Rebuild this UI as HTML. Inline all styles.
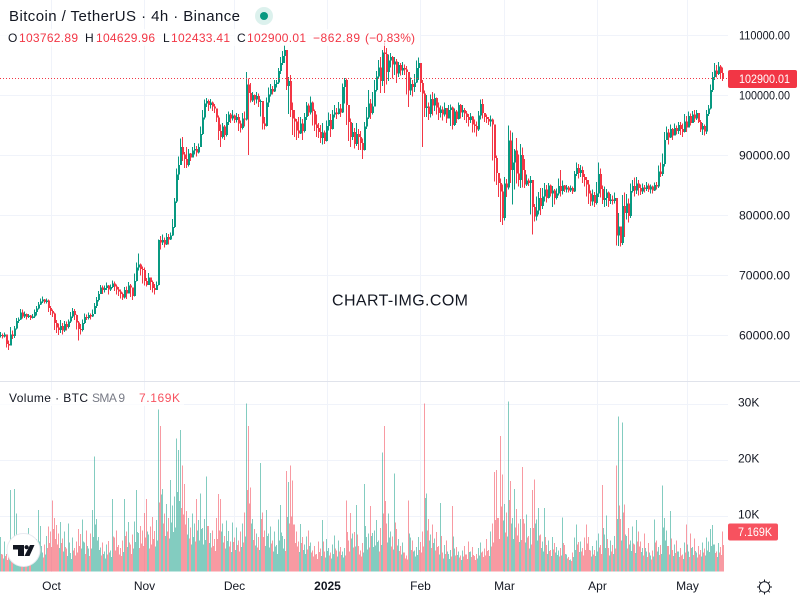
<!DOCTYPE html>
<html lang="en">
<head>
<meta charset="utf-8">
<title>Bitcoin / TetherUS 4h chart</title>
<style>
html,body{margin:0;padding:0;background:#fff;}
#chart{display:block;width:800px;height:600px;font-family:"Liberation Sans",sans-serif;}
text{font-family:"Liberation Sans",sans-serif;}
</style>
</head>
<body>
<svg id="chart" xmlns="http://www.w3.org/2000/svg" width="800" height="600" viewBox="0 0 800 600">
  <rect x="0" y="0" width="800" height="600" fill="#ffffff"/>
  <g id="grid"></g>
  <rect x="0" y="381" width="800" height="1" fill="#e0e3eb"/>
  <text x="400" y="305.500" font-size="16" fill="#131722" text-anchor="middle" textLength="136">CHART-IMG.COM</text>
  <g id="volumes" shape-rendering="crispEdges"></g>
  <g id="candles" shape-rendering="crispEdges"></g>
  <line id="price-line" x1="0" x2="728" stroke="#f23645" stroke-width="1" stroke-dasharray="1 2"/>

  <rect x="0" y="29" width="420" height="17" fill="#ffffff" opacity="0.7"/>
  <rect x="0" y="390" width="184" height="16" fill="#ffffff" opacity="0.7"/>

  <text x="9" y="21" font-size="15" fill="#131722" textLength="231">Bitcoin / TetherUS · 4h · Binance</text>
  <circle cx="264" cy="16" r="9" fill="#089981" opacity="0.14"/>
  <circle cx="264" cy="16" r="4" fill="#089981"/>

  <g font-size="12">
    <text x="8" y="42" fill="#131722">O</text>
    <text x="19" y="42" fill="#f23645" textLength="59">103762.89</text>
    <text x="85" y="42" fill="#131722">H</text>
    <text x="96" y="42" fill="#f23645" textLength="59">104629.96</text>
    <text x="163" y="42" fill="#131722">L</text>
    <text x="171" y="42" fill="#f23645" textLength="59">102433.41</text>
    <text x="237" y="42" fill="#131722">C</text>
    <text x="247" y="42" fill="#f23645" textLength="59">102900.01</text>
    <text x="313" y="42" fill="#f23645" textLength="47">−862.89</text>
    <text x="365" y="42" fill="#f23645" textLength="50">(−0.83%)</text>
  </g>

  <g font-size="12">
    <text x="9" y="402" fill="#131722" textLength="79">Volume · BTC</text>
    <text x="92" y="402" fill="#787b86" textLength="33">SMA 9</text>
    <text x="139" y="402" fill="#f7525f" textLength="41">7.169K</text>
  </g>

  <g id="price-axis" font-size="12" fill="#131722"></g>
  <g id="volume-axis" font-size="12" fill="#131722"></g>
  <g id="time-axis" font-size="12" fill="#131722" text-anchor="middle"></g>

  <rect id="price-tag" x="728" width="69" height="18" rx="2" fill="#f23645"/>
  <text id="price-tag-text" x="739" font-size="12" fill="#ffffff" textLength="51" lengthAdjust="spacingAndGlyphs">102900.01</text>
  <rect id="vol-tag" x="728" width="50" height="17" rx="2" fill="#f7525f"/>
  <text id="vol-tag-text" x="738" font-size="12" fill="#ffffff" textLength="34" lengthAdjust="spacingAndGlyphs">7.169K</text>

  <g>
    <circle cx="23.500" cy="550" r="16.500" fill="#ffffff" stroke="#e8eaf0" stroke-width="1"/>
    <path d="M13 545H24V556H18V549.500H13Z" fill="#131722"/>
    <circle cx="26.600" cy="547.200" r="2.100" fill="#131722"/>
    <path d="M30 545H34.500L29.500 556H24.500Z" fill="#131722"/>
  </g>

  <g stroke="#131722" stroke-width="1" fill="none">
    <circle cx="764.500" cy="587" r="5.200"/>
    <path d="M764.500 579.500v2M764.500 592.500v2M757 587h2M770 587h2M759.200 581.700l1.500 1.500M768.300 590.800l1.500 1.500M759.200 592.300l1.500-1.500M768.300 583.200l1.500-1.500"/>
  </g>
</svg>
<script>
// Values in thousands of USDT, one bar per 16 hours of chart time.
const highs = [
60.6,60.3,60.5,60.2,59.2,61.4,60.8,61.6,62.9,63.0,
64.4,64.3,64.0,63.7,63.6,63.4,63.6,64.3,64.9,65.6,
66.2,66.5,66.1,66.2,66.0,64.9,64.3,63.8,62.6,62.0,
62.6,62.1,62.4,62.3,62.7,63.9,64.6,64.4,63.5,62.4,
61.9,62.7,63.7,63.5,63.8,63.7,64.3,65.4,66.4,67.4,
68.4,68.3,68.3,68.8,68.4,68.5,69.2,69.0,68.5,68.1,
67.7,67.2,68.1,68.2,68.9,68.6,67.9,70.3,72.2,73.7,
72.0,71.5,71.3,69.6,70.4,69.6,69.2,68.6,69.0,76.0,
76.6,76.8,76.3,77.1,76.9,77.2,79.4,82.9,87.8,89.8,
92.8,93.1,90.6,91.4,91.1,90.4,91.4,92.1,91.6,92.0,
94.8,97.6,99.3,99.6,99.3,99.4,99.0,98.6,97.6,96.7,
95.2,95.4,95.1,96.9,97.3,97.1,97.6,96.8,97.1,96.9,
95.8,97.1,97.3,103.9,102.8,102.1,100.6,100.2,100.6,100.3,
99.3,97.6,96.4,99.7,101.3,101.9,101.6,102.6,102.6,104.6,
106.4,107.4,108.4,107.6,103.1,103.4,98.8,97.6,96.1,96.4,
96.4,96.1,97.1,98.9,98.7,99.8,99.0,97.7,96.8,95.4,
95.1,95.4,94.2,95.8,97.2,96.9,97.6,98.4,97.9,98.9,
98.6,102.0,102.9,102.8,97.6,96.2,95.4,94.6,95.4,94.4,
94.1,92.8,95.6,98.1,100.9,99.4,100.6,102.6,104.1,105.9,
106.4,107.6,108.8,107.9,106.8,107.1,106.6,106.4,106.1,105.6,
105.4,105.6,105.2,104.9,103.1,103.0,102.6,103.6,105.8,106.3,
105.2,102.6,100.8,100.1,98.8,100.2,100.6,100.3,99.7,98.8,
98.3,98.2,98.8,97.9,98.4,98.5,98.2,97.8,97.6,98.8,
98.6,98.4,97.9,97.4,96.9,97.1,96.6,96.0,95.7,97.4,
99.3,99.4,97.1,96.8,96.4,96.7,96.2,91.0,90.0,87.1,
86.2,85.2,86.4,86.1,95.0,94.2,93.8,91.1,92.9,90.2,
91.9,91.3,89.4,86.8,86.2,86.6,84.8,81.9,83.2,83.9,
84.6,84.6,85.4,85.1,85.4,85.2,84.9,84.4,84.5,86.2,
87.6,85.8,85.1,85.1,84.9,85.0,84.8,87.4,88.8,88.6,
88.4,88.2,86.9,86.4,85.9,84.2,84.3,83.9,85.6,88.8,
87.8,85.0,84.8,84.4,84.0,83.6,83.3,83.8,82.0,80.4,
77.8,83.4,83.8,83.6,82.8,85.3,85.9,86.3,86.4,85.9,
85.2,85.3,85.1,85.6,85.3,85.2,85.0,85.5,85.6,88.3,
88.8,90.3,93.9,94.8,94.4,95.2,94.6,95.3,95.0,95.6,
95.6,95.3,96.9,96.6,97.3,97.0,97.4,97.6,97.6,96.9,
95.9,95.4,95.2,97.6,98.4,101.8,103.9,105.4,105.1,105.6,
105.1,104.63];
const lows = [
59.7,59.5,59.7,58.0,57.6,58.5,59.4,59.6,61.0,62.1,
62.6,62.8,62.9,62.7,62.9,62.6,62.8,62.9,63.3,64.3,
65.1,65.4,65.3,65.3,63.9,63.4,63.1,60.9,60.4,60.1,
60.4,60.2,60.6,60.8,61.2,62.1,62.9,62.6,61.0,59.2,
60.2,60.7,61.9,62.6,62.7,62.7,63.1,63.6,64.6,65.7,
67.0,66.9,67.2,67.6,66.8,67.4,67.9,67.4,66.8,66.6,
66.2,65.9,66.2,66.1,67.0,66.4,65.9,66.5,69.0,70.8,
70.0,68.7,68.3,68.2,68.8,67.6,67.2,66.8,67.8,68.3,
74.3,75.1,74.7,75.1,75.2,75.9,76.6,77.9,82.1,85.9,
88.7,89.1,87.9,87.9,88.2,89.1,89.8,90.2,89.8,90.3,
91.4,93.4,96.0,98.1,97.4,97.8,97.4,97.1,95.6,92.6,
91.4,92.8,92.6,93.2,95.1,95.4,95.8,95.4,95.5,94.1,
93.8,94.3,94.8,95.8,90.1,98.8,98.9,98.4,98.7,98.1,
96.5,94.3,94.3,94.8,98.1,99.8,100.2,100.6,101.3,101.9,
103.6,105.1,105.4,100.9,96.9,96.4,93.4,93.1,92.6,92.9,
93.6,92.6,93.8,95.9,96.6,96.8,95.0,94.1,93.1,92.9,
92.1,91.8,91.9,92.3,94.2,93.1,94.3,96.3,96.1,96.8,
96.4,97.1,98.7,95.1,92.4,91.4,92.6,91.2,91.6,90.9,
90.9,89.4,90.8,94.4,96.1,96.1,96.8,99.8,100.7,102.8,
100.4,101.6,100.4,101.8,102.4,104.7,102.8,103.4,102.1,103.1,
103.3,103.4,103.4,100.2,98.1,100.1,99.8,100.6,102.1,102.6,
100.6,91.4,96.4,96.4,95.9,96.3,96.7,97.4,96.8,95.9,
96.3,95.8,96.5,95.4,96.2,94.9,94.3,94.9,95.4,96.0,
96.2,96.4,95.9,95.4,94.8,95.4,93.8,93.8,93.2,94.1,
96.0,96.2,95.6,95.4,95.1,94.8,89.2,85.7,85.1,83.1,
78.9,78.4,79.2,83.1,84.3,85.4,81.8,84.3,85.3,84.8,
84.6,84.7,84.6,84.9,84.9,80.2,76.8,79.0,79.2,80.2,
80.1,81.1,82.3,82.2,82.8,83.2,81.4,81.8,82.7,83.3,
83.2,83.5,83.9,83.8,83.8,83.9,83.6,83.9,86.6,86.2,
86.4,85.4,84.8,83.2,81.9,81.6,81.7,81.4,81.8,83.1,
83.0,81.9,81.4,81.6,81.4,81.9,81.8,82.0,75.0,74.9,
74.8,75.1,76.4,79.3,78.8,79.6,83.8,83.2,83.6,83.3,
83.4,83.6,83.8,84.1,83.9,83.7,83.7,84.1,84.3,84.6,
86.4,86.6,88.2,92.6,91.8,92.9,92.6,93.3,93.5,93.6,
93.4,93.1,93.8,93.9,94.8,95.0,95.6,95.6,95.9,95.4,
93.9,93.4,93.3,93.6,96.6,97.7,100.6,102.6,103.0,103.4,
102.9,102.43];
const closes = [
60.1,59.8,60.2,58.6,58.3,60.2,59.9,61.2,62.4,62.7,
63.8,63.2,63.6,63.1,63.3,62.9,63.2,63.9,64.5,65.2,
65.7,66.0,65.6,65.8,64.6,64.1,63.7,62.1,61.3,60.9,
61.6,60.8,61.9,61.4,62.3,63.2,64.1,63.4,62.2,61.1,
60.9,62.1,63.1,62.9,63.4,63.2,63.6,64.9,65.9,66.9,
68.0,67.6,67.9,68.3,67.7,68.1,68.7,68.2,67.7,67.3,
66.9,66.3,67.6,67.0,68.3,68.0,66.6,69.1,71.3,71.8,
71.1,70.9,69.1,68.4,69.7,68.9,67.9,67.6,68.4,75.9,
75.5,75.9,75.2,76.4,76.0,76.7,78.1,82.3,86.8,88.4,
91.4,90.2,89.4,88.4,90.3,89.7,90.8,91.1,90.5,91.4,
93.6,96.3,98.7,99.1,98.4,98.8,98.2,97.8,96.3,94.1,
93.1,94.8,93.4,95.6,96.8,96.2,96.7,95.9,96.4,95.3,
94.6,96.2,96.0,101.8,100.4,99.2,100.1,99.3,99.9,98.9,
99.1,95.3,94.9,98.8,100.2,101.1,100.7,101.9,102.2,104.1,
105.4,106.6,107.6,101.6,102.4,97.6,96.2,95.7,94.2,93.7,
95.3,94.1,96.4,98.3,97.2,98.8,97.4,95.2,94.6,93.9,
92.9,93.8,92.4,94.9,95.9,94.4,96.8,97.2,96.9,97.8,
97.2,101.4,102.6,98.4,95.6,93.1,93.9,91.9,93.6,93.1,
92.1,90.9,94.8,96.3,98.7,97.1,98.2,100.9,103.2,104.7,
102.4,107.2,106.9,103.9,105.8,106.4,105.2,105.7,103.7,105.1,
104.2,104.6,104.3,103.9,100.8,101.9,101.4,102.2,104.6,105.4,
102.1,100.3,97.9,98.2,96.9,99.4,98.3,99.6,98.0,97.1,
97.7,96.8,97.9,96.2,97.6,98.0,95.1,97.3,96.1,98.4,
97.2,97.6,97.0,96.4,95.9,96.5,95.2,94.9,94.3,96.7,
98.6,97.1,96.4,96.1,95.7,96.0,95.2,89.6,87.1,85.4,
84.0,79.6,85.3,84.7,92.5,87.6,88.8,90.8,87.0,85.9,
90.1,87.6,85.2,85.8,85.4,85.9,81.4,79.8,80.8,82.9,
81.6,83.2,84.3,82.9,85.0,83.7,84.2,82.9,83.7,84.9,
84.1,85.0,84.3,84.7,84.2,84.6,84.0,86.9,87.9,87.1,
87.6,86.4,85.9,85.2,83.7,82.3,83.4,82.1,83.7,86.9,
84.4,82.6,82.9,83.8,82.4,82.7,82.4,82.9,76.7,78.2,
75.4,81.6,80.4,82.0,79.9,84.1,84.9,84.2,85.3,84.6,
84.0,84.7,84.4,85.0,84.3,84.8,84.2,85.1,84.8,87.3,
86.9,88.6,92.6,93.8,93.0,94.4,93.3,94.6,94.1,95.1,
94.4,93.9,95.7,94.7,96.6,95.4,96.8,96.2,97.1,95.6,
94.3,94.9,94.0,96.9,97.8,100.9,103.1,104.2,103.6,104.8,
103.76,102.9];
// Traded volume in thousands of BTC: the taller bar in each 2px slot.
const volumes = [
6.2,3.1,5.4,3.2,4.6,14.6,3.9,14.8,10.4,4.3,
5.2,3.1,6.4,4.2,7.8,3.9,5.1,4.6,5.8,11.0,
8.2,3.4,4.9,6.4,8.1,7.2,12.7,9.6,8.3,6.8,
8.9,5.9,7.2,4.1,8.6,3.3,6.1,4.2,5.4,7.6,
6.7,9.3,5.2,7.4,4.1,6.8,11.0,20.6,9.4,6.2,
4.3,5.2,3.6,4.9,5.5,3.8,13.0,6.1,7.4,4.8,
4.2,5.6,13.0,7.2,8.9,4.9,6.6,9.0,14.6,6.9,
8.2,7.4,10.5,13.0,6.6,8.1,9.8,7.3,9.2,29.0,
26.0,14.8,10.4,12.1,9.6,16.4,11.8,13.4,23.8,21.7,
25.3,19.0,15.7,10.8,9.6,7.9,10.4,8.6,13.0,9.2,
14.0,7.8,9.4,17.0,8.2,6.9,7.4,5.8,9.6,13.9,
13.0,8.6,6.4,9.1,7.3,5.4,8.8,6.1,7.9,5.6,
7.2,8.6,10.6,30.0,26.0,15.0,9.4,7.6,6.8,6.2,
19.4,10.6,7.4,11.0,6.8,8.1,5.6,7.2,4.8,9.3,
11.9,6.4,5.8,18.0,16.0,19.0,16.3,8.4,7.2,5.4,
8.5,6.2,4.9,6.3,7.4,5.2,3.8,4.6,3.2,5.4,
4.1,9.2,3.6,5.8,4.2,3.4,4.9,6.5,3.8,5.6,
4.4,3.6,4.2,12.7,5.6,10.5,6.8,7.1,11.9,4.6,
3.8,5.1,15.7,6.2,6.8,11.7,6.9,7.4,9.2,5.6,
7.8,21.3,26.0,8.6,10.4,7.2,6.3,17.5,7.6,5.8,
4.6,5.2,3.4,2.9,12.7,6.1,5.6,3.8,4.4,6.2,
5.3,7.2,30.0,14.0,9.4,6.6,8.4,5.9,7.1,4.6,
12.3,3.4,4.8,5.6,3.2,3.9,11.7,4.1,4.4,3.6,
2.9,3.8,4.6,3.1,5.4,3.6,4.4,2.8,3.2,4.2,
5.2,3.6,4.1,5.8,3.9,7.2,8.6,17.8,18.2,9.6,
24.2,17.4,12.1,10.6,30.4,16.2,9.6,14.8,11.2,8.6,
9.4,18.7,8.6,10.2,6.4,7.8,14.6,16.5,9.3,11.4,
6.6,5.4,11.4,4.8,5.6,3.9,6.2,5.1,4.4,3.8,
4.2,9.7,4.8,3.1,2.6,2.2,3.4,6.1,8.4,5.3,
5.4,4.2,6.1,8.4,6.2,3.8,4.6,3.9,5.6,6.8,
4.8,15.5,6.6,10.0,4.2,5.6,4.8,6.4,19.0,27.7,
9.4,26.6,12.0,6.4,7.8,5.6,8.1,4.9,9.2,7.2,
5.4,4.2,6.8,3.6,5.1,2.9,3.8,9.3,5.6,4.4,
4.8,15.4,9.6,7.4,4.6,10.8,3.9,4.9,5.6,3.6,
4.2,3.1,5.2,8.4,3.6,6.8,4.4,5.9,3.4,4.6,
3.9,5.2,4.1,6.1,5.4,7.6,8.3,4.9,3.6,5.1,
4.4,7.169];
// The shorter bar in each 2px slot (the dense base of the volume pane).
const volumesLow = [
3.2,2.4,2.8,2.1,3.6,5.2,2.9,6.1,3.4,2.6,
3.8,2.2,4.1,2.6,4.8,2.4,3.3,2.7,3.6,5.4,
4.6,2.5,3.1,4.2,5.1,4.4,7.6,5.8,4.9,4.2,
5.1,3.6,4.4,2.8,5.2,2.3,3.8,2.9,3.4,4.6,
4.1,5.4,3.2,4.6,2.8,4.1,6.2,8.4,5.6,3.9,
2.9,3.2,2.4,3.1,3.4,2.6,6.3,3.8,4.4,3.1,
2.8,3.5,6.4,4.4,5.2,3.2,4.1,5.3,7.1,4.2,
5.0,4.6,6.1,7.2,4.1,4.9,5.8,4.5,5.6,12.4,
13.8,8.6,6.4,7.2,5.9,8.8,7.1,7.9,14.2,12.6,
11.4,10.2,8.4,6.6,5.9,4.9,6.2,5.4,7.4,5.6,
7.6,4.9,5.7,8.2,5.1,4.3,4.6,3.7,5.8,7.4,
7.2,5.2,4.1,5.5,4.5,3.5,5.3,3.9,4.8,3.6,
4.4,5.2,6.3,14.6,12.2,8.6,5.7,4.7,4.3,3.9,
9.4,6.2,4.6,6.4,4.3,5.0,3.6,4.5,3.2,5.6,
7.0,4.1,3.7,9.8,8.6,9.9,8.4,5.1,4.5,3.5,
5.1,3.9,3.2,4.0,4.6,3.4,2.7,3.1,2.3,3.5,
2.8,5.4,2.5,3.7,2.9,2.4,3.2,4.1,2.7,3.6,
3.0,2.5,2.9,7.1,3.6,5.9,4.3,4.5,6.6,3.1,
2.7,3.4,8.2,4.0,4.3,6.4,4.4,4.7,5.3,3.6,
4.8,10.4,12.6,5.2,6.1,4.5,4.0,8.8,4.7,3.7,
3.1,3.4,2.4,2.2,6.8,3.9,3.6,2.7,3.0,3.9,
3.4,4.5,13.2,7.4,5.6,4.2,5.1,3.8,4.4,3.1,
6.4,2.4,3.2,3.6,2.3,2.7,6.3,2.9,3.0,2.5,
2.1,2.7,3.1,2.3,3.5,2.6,3.0,2.1,2.4,2.9,
3.4,2.6,2.9,3.7,2.8,4.5,5.2,9.2,9.6,5.8,
11.6,9.1,7.0,6.3,12.8,8.6,5.8,7.9,6.5,5.3,
5.7,9.4,5.2,6.1,4.1,4.9,7.8,8.6,5.6,6.5,
4.2,3.6,6.2,3.2,3.7,2.8,4.0,3.4,3.0,2.7,
2.9,5.1,3.2,2.4,2.1,1.9,2.6,3.9,4.9,3.5,
3.6,2.9,3.9,5.0,3.9,2.7,3.1,2.8,3.6,4.3,
3.2,7.8,4.2,5.8,2.9,3.6,3.2,4.1,9.4,11.8,
5.6,10.6,6.6,4.1,4.9,3.7,5.0,3.3,5.4,4.5,
3.5,2.9,4.2,2.6,3.4,2.2,2.7,5.2,3.6,3.0,
3.2,7.9,5.6,4.6,3.1,5.9,2.8,3.3,3.6,2.6,
2.9,2.3,3.4,4.9,2.6,4.2,3.0,3.7,2.5,3.1,
2.7,3.4,2.9,3.8,3.5,4.6,4.9,3.3,2.6,3.4,
3.0,4.8];
const firstOpen = 60.0;
const lastPrice = 102.90001;
const lastVolume = 7.169;
const priceTicks = [110000,100000,90000,80000,70000,60000];
const volumeTicks = [30,20,10];
const timeDates = ['2024-10-01','2024-11-01','2024-12-01','2025-01-01','2025-02-01','2025-03-01','2025-04-01','2025-05-01'];
const timeLabels = ['Oct','Nov','Dec','2025','Feb','Mar','Apr','May'];

const NS = 'http://www.w3.org/2000/svg';
function priceY(k){ return 35.5 + (110 - k) * 6; }
function volumeY(k){ return 571.7 - k * 5.6; }
function barX(i){ return 2 * i; }
function dateX(s){ return 51.5 + 3 * (Date.parse(s) - Date.parse('2024-10-01')) / 86400000; }
function make(tag, attrs, parent){
  const el = document.createElementNS(NS, tag);
  for (const k in attrs) el.setAttribute(k, attrs[k]);
  parent.appendChild(el);
  return el;
}

const gridG = document.getElementById('grid');
priceTicks.forEach(function(t){
  const y = priceY(t / 1000);
  const line = make('line', {x1:0, x2:728, y1:y, y2:y, stroke:'#f0f3fa', 'stroke-width':1}, gridG);
  
  
});
volumeTicks.forEach(function(t){
  const y = Math.round(volumeY(t)) + 0.5;
  const line = make('line', {x1:0, x2:728, y1:y, y2:y, stroke:'#f0f3fa', 'stroke-width':1}, gridG);
  
  
});
timeDates.forEach(function(d){
  const x = dateX(d);
  const line = make('line', {x1:x, x2:x, y1:0, y2:572, stroke:'#f0f3fa', 'stroke-width':1}, gridG);
  
  
});

const volG = document.getElementById('volumes');
const candleG = document.getElementById('candles');
function isUp(i){
  const o = i === 0 ? firstOpen : closes[i - 1];
  return closes[i] >= o;
}
closes.forEach(function(c, i){
  const x = barX(i);
  const vTop = volumeY(volumes[i]);
  const bar = make('rect', {x:x, y:vTop, width:1, height:571.7 - vTop, fill:isUp(i) ? '#089981' : '#f23645', opacity:0.5}, volG);
  
  
  const lowTop = volumeY(volumesLow[i]);
  const nextUp = i + 1 < closes.length ? isUp(i + 1) : isUp(i);
  const barLow = make('rect', {x:x + 1, y:lowTop, width:1, height:571.7 - lowTop, fill:nextUp ? '#089981' : '#f23645', opacity:0.5}, volG);
  
  
});
closes.forEach(function(c, i){
  const o = i === 0 ? firstOpen : closes[i - 1];
  const x = barX(i);
  const col = isUp(i) ? '#089981' : '#f23645';
  const wick = make('rect', {x:x, y:priceY(highs[i]), width:1, height:priceY(lows[i]) - priceY(highs[i]), fill:col}, candleG);
  
  
  const top = priceY(Math.max(o, c));
  const bot = priceY(Math.min(o, c));
  const body = make('rect', {x:x, y:top, width:2, height:Math.max(bot - top, 1), fill:col}, candleG);
  
  
});

const priceAxis = document.getElementById('price-axis');
priceTicks.forEach(function(t){
  const lab = make('text', {x:739, y:priceY(t / 1000) + 4, textLength:51, lengthAdjust:'spacingAndGlyphs'}, priceAxis);
  lab.textContent = t.toFixed(2);
  
  
});
const volumeAxis = document.getElementById('volume-axis');
volumeTicks.forEach(function(t){
  const lab = make('text', {x:738, y:volumeY(t) + 3}, volumeAxis);
  lab.textContent = t + 'K';
  
  
});
const timeAxis = document.getElementById('time-axis');
timeDates.forEach(function(d, i){
  const lab = make('text', {x:dateX(d), y:590}, timeAxis);
  lab.textContent = timeLabels[i];
  if (timeLabels[i] === '2025') lab.setAttribute('font-weight', 'bold');
  
  
});

const lastY = Math.floor(priceY(lastPrice)) + 0.5;
const priceLine = document.getElementById('price-line');
priceLine.setAttribute('y1', lastY);
priceLine.setAttribute('y2', lastY);
document.getElementById('price-tag').setAttribute('y', lastY - 8.5);
document.getElementById('price-tag-text').setAttribute('y', lastY + 4.5);
const lastVolY = Math.round(volumeY(lastVolume));
document.getElementById('vol-tag').setAttribute('y', lastVolY - 8.5);
document.getElementById('vol-tag-text').setAttribute('y', lastVolY + 4);
</script>
</body>
</html>
